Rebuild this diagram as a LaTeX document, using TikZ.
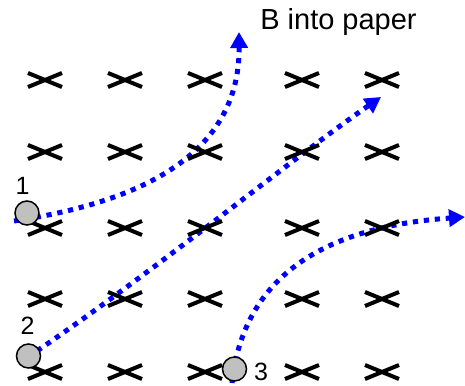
\documentclass[tikz,border=0pt]{standalone}
\usepackage{fontspec}
\setmainfont{Liberation Sans}
\usepackage{tikz}
\usetikzlibrary{arrows.meta}
\definecolor{tblue}{HTML}{0000FF}
\definecolor{tgray}{HTML}{C0C0C0}
\tikzset{
  >={Triangle[length=8pt,width=8.5pt]},
  tcross/.style={black, line width=2pt},
  tpart/.style={circle, draw=black, fill=tgray, line width=0.75pt,
                minimum size=12pt, inner sep=0pt},
  tpath/.style={->, tblue, line width=2.5pt, dash pattern=on 2.6pt off 2.9pt},
  tnum/.style={font=\fontsize{12.5}{14}\selectfont, inner sep=0pt, anchor=base},
  ttitle/.style={font=\fontsize{14.5}{17}\selectfont, inner sep=0pt, anchor=base},
}

\begin{document}
\begin{tikzpicture}[x=0.5pt,y=-0.5pt]
  \useasboundingbox (0,0) rectangle (465,385);

  % ---- start and end points ----
  \coordinate (s1) at (14,221);
  \coordinate (e1) at (239,32);
  \coordinate (s2) at (28,357);
  \coordinate (e2) at (381,97);
  \coordinate (s3) at (232,383);
  \coordinate (e3) at (465,217);

  % ---- paths ----
  \draw[tpath] (s1) .. controls (120,205) and (240,165) .. (e1);
  \draw[tpath] (s2) .. controls (150,275) and (290,160) .. (e2);
  \draw[tpath] (s3) .. controls (245,260) and (350,225) .. (e3);

  % ---- field into the paper ----
  \foreach \cx in {45,125,205,302,382}
    \foreach \cy in {80,152,228,299,372} {
      \draw[tcross] (\cx-17,\cy-7) -- (\cx+17,\cy+7);
      \draw[tcross] (\cx-17,\cy+7) -- (\cx+17,\cy-7);
    }

  % ---- particles ----
  \node[tpart] (c1) at (27,213) {};
  \node[tpart] (c2) at (28.5,356) {};
  \node[tpart] (c3) at (234.5,369) {};
  \node[tnum] (n1) at (22.5,194) {1};
  \node[tnum] (n2) at (27.5,334) {2};
  \node[tnum] (n3) at (261,380) {3};

  \node[ttitle] (blbl) at (338.5,29.5) {B into paper};

\end{tikzpicture}
\end{document}
